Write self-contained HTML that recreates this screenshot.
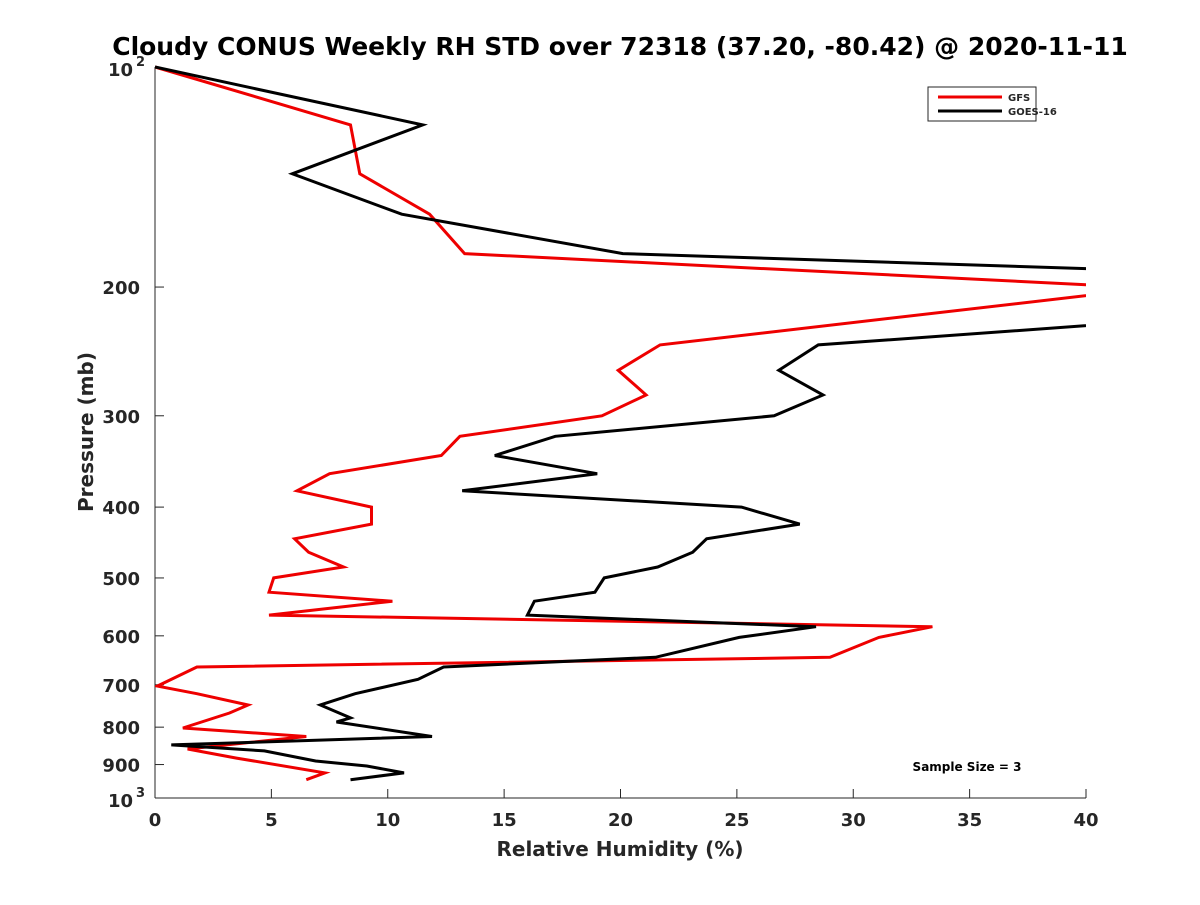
<!DOCTYPE html>
<html><head><meta charset="utf-8"><style>
html,body{margin:0;padding:0;background:#fff;}
svg text{font-family:"DejaVu Sans","Liberation Sans",sans-serif;font-weight:bold;fill:#262626;}
</style></head><body>
<svg id="chart" width="1200" height="900" xmlns="http://www.w3.org/2000/svg">
<defs><clipPath id="plotclip"><rect x="155" y="60" width="931" height="745"/></clipPath></defs>
<text x="620" y="55" text-anchor="middle" font-size="25" style="fill:#000">Cloudy CONUS Weekly RH STD over 72318 (37.20, -80.42) @ 2020-11-11</text>
<g id="axes"></g>
<g id="series" clip-path="url(#plotclip)"></g>
<g>
<rect x="928" y="87" width="108" height="34" fill="#fff" stroke="#262626" stroke-width="1"/>
<line x1="938" y1="97" x2="1002" y2="97" stroke="#e00" stroke-width="3"/>
<text x="1008" y="101" font-size="10">GFS</text>
<line x1="938" y1="111" x2="1002" y2="111" stroke="#000" stroke-width="3"/>
<text x="1008" y="115" font-size="10">GOES-16</text>
</g>
<text x="967" y="771" text-anchor="middle" font-size="12" style="fill:#000">Sample Size = 3</text>
<text x="620" y="856" text-anchor="middle" font-size="20">Relative Humidity (%)</text>
<text transform="translate(93,432) rotate(-90)" text-anchor="middle" font-size="20">Pressure (mb)</text>
</svg>
<script>
const xTicks = [0,5,10,15,20,25,30,35,40];
const yTicks = [200,300,400,500,600,700,800,900];
const gfsPressure = [100,120,140,159,180,200,202,240,260,281,300,320,340,360,380,400,422,442,461,483,500,523,538,562,583,603,642,662,703,720,746,765,802,824,857,882,924,944];
const gfsRH = [0,8.4,8.8,11.8,13.3,42,42,21.7,19.9,21.1,19.2,13.1,12.3,7.5,6.1,9.3,9.3,6.0,6.6,8.1,5.1,4.9,10.2,4.9,33.4,31.1,29.0,1.8,0.1,1.8,4.0,3.2,1.2,6.5,1.4,3.5,7.3,6.5];
const goesPressure = [100,120,140,159,180,191,220,240,260,281,300,320,340,360,380,400,422,442,461,483,500,523,538,562,583,603,642,662,688,720,746,777,787,824,846,862,890,904,924,944];
const goesRH = [0,11.5,5.9,10.6,20.1,45,45,28.5,26.8,28.7,26.6,17.2,14.6,19.0,13.2,25.2,27.7,23.7,23.1,21.6,19.3,18.9,16.3,16.0,28.4,25.1,21.5,12.4,11.3,8.6,7.1,8.4,7.8,11.9,0.7,4.7,6.9,9.1,10.7,8.4];

const NS='http://www.w3.org/2000/svg';
const X0=155,X1=1086,Y0=67,Y1=798;
const xs=v=>X0+(v/40)*(X1-X0);
const ys=p=>Y0+Math.log10(p/100)*(Y1-Y0);
function mk(tag,attrs,parent){const e=document.createElementNS(NS,tag);for(const k in attrs)e.setAttribute(k,attrs[k]);parent.appendChild(e);return e;}
const axes=document.getElementById('axes');
const ax=mk('line',{x1:X0,y1:Y1,x2:X1,y2:Y1,stroke:'#262626','stroke-width':1},axes);


const ay=mk('line',{x1:X0,y1:Y0,x2:X0,y2:Y1,stroke:'#262626','stroke-width':1},axes);


xTicks.forEach(t=>{
  const x=xs(t);
  mk('line',{x1:x,y1:Y1,x2:x,y2:Y1-9,stroke:'#262626'},axes);
  const tx=mk('text',{x:x,y:Y1+28,'text-anchor':'middle','font-size':18},axes);
  tx.textContent=t;
  
  
});
yTicks.forEach(t=>{
  const y=ys(t);
  mk('line',{x1:X0,y1:y,x2:X0+9,y2:y,stroke:'#262626'},axes);
  const tx=mk('text',{x:X0-15,y:y+7,'text-anchor':'end','font-size':18},axes);
  tx.textContent=t;
  
  
});
[[100,'2'],[1000,'3']].forEach(([p,e])=>{
  const y=ys(p);
  const tx=mk('text',{x:X0-47,y:y+9,'font-size':18},axes);
  tx.textContent='10';
  
  
  const sp=mk('text',{x:X0-19,y:y-1,'font-size':13},axes);
  sp.textContent=e;
  
  
});
const series=document.getElementById('series');
function line(rh,pr,color,name){
  const pts=rh.map((v,i)=>xs(v).toFixed(1)+','+ys(pr[i]).toFixed(1)).join(' ');
  const pl=mk('polyline',{points:pts,fill:'none',stroke:color,'stroke-width':3,'stroke-linejoin':'miter'},series);
  
  
}
line(gfsRH,gfsPressure,'#e00','gfs-line');
line(goesRH,goesPressure,'#000','goes16-line');
</script>
</body></html>
